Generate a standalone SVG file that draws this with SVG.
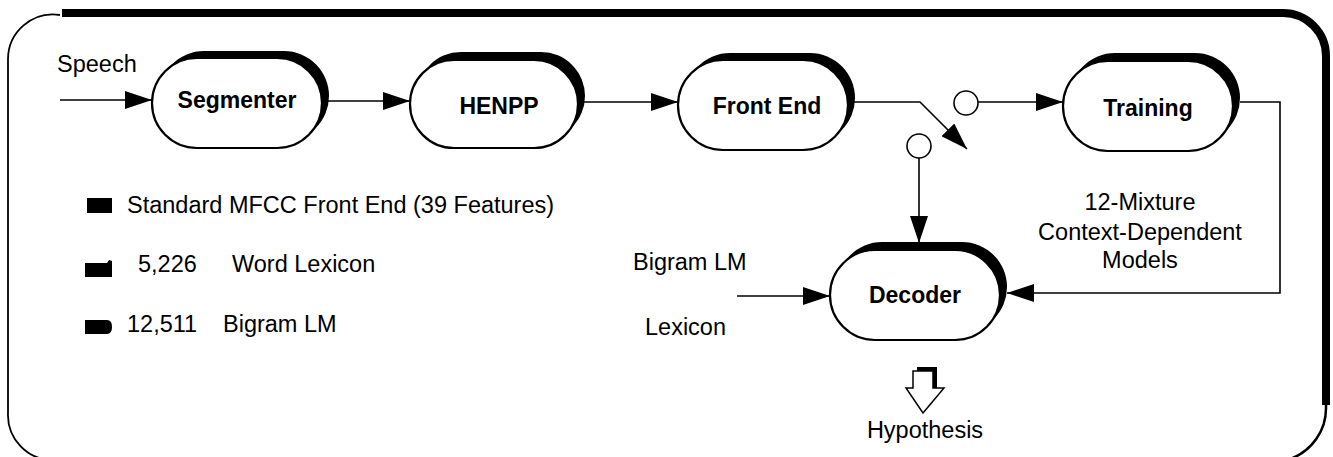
<svg xmlns="http://www.w3.org/2000/svg" width="1333" height="457" viewBox="0 0 1333 457">
<defs>
<style>
.t{font-family:"Liberation Sans",Arial,sans-serif;font-size:23.5px;fill:#000}
.b{font-family:"Liberation Sans",Arial,sans-serif;font-size:23px;font-weight:bold;fill:#000;text-anchor:middle}
.sh{fill:#000}
.body{fill:#fff;stroke:#000;stroke-width:2.2}
.arr{fill:none;stroke:#000;stroke-width:1.6;marker-end:url(#ah)}
.circ{fill:#fff;stroke:#000;stroke-width:1.6}
</style>
<marker id="ah" viewBox="0 0 27 18" refX="27" refY="9" markerWidth="27" markerHeight="18" markerUnits="userSpaceOnUse" orient="auto">
<path d="M0,0 L27,9 L0,18 Z" fill="#000"/>
</marker>
</defs>
<rect width="1333" height="457" fill="#fff"/>
<g id="frame">
<path d="M60,15 A45,45 0 0 0 8,60 L8,413 A45,45 0 0 0 53,460" fill="none" stroke="#000" stroke-width="1.8"/>
<path d="M62,13 L1283,13 A43,43 0 0 1 1326,56 L1326,405" fill="none" stroke="#000" stroke-width="8"/>
<path d="M1326,400 L1326,407 A54,54 0 0 1 1290,459" fill="none" stroke="#000" stroke-width="2.5"/>
</g>
<g id="connectors">
<line class="arr" x1="60" y1="100" x2="152" y2="100"/>
<line class="arr" x1="322" y1="101" x2="410" y2="101"/>
<line class="arr" x1="580" y1="102" x2="678" y2="102"/>
<polyline class="arr" points="850,102 920,102 967,149"/>
<line class="arr" x1="978" y1="102" x2="1063" y2="102"/>
<line class="arr" x1="919" y1="158" x2="919" y2="243"/>
<polyline class="arr" points="1240,102 1280,102 1280,293 1007,293"/>
<line class="arr" x1="737" y1="296" x2="830" y2="296"/>
<circle class="circ" cx="966" cy="103" r="12"/>
<circle class="circ" cx="919" cy="146" r="12"/>
</g>
<g id="segmenter">
<rect class="sh" x="159" y="51" width="170" height="90" rx="45"/>
<rect class="body" x="152" y="58" width="170" height="90" rx="45"/>
<text class="b" x="237" y="108">Segmenter</text>
</g>
<g id="henpp">
<rect class="sh" x="417" y="52" width="168" height="88" rx="44"/>
<rect class="body" x="410" y="60" width="168" height="88" rx="44"/>
<text class="b" x="499" y="114">HENPP</text>
</g>
<g id="frontend">
<rect class="sh" x="685" y="53" width="170" height="90" rx="45"/>
<rect class="body" x="678" y="60" width="170" height="90" rx="45"/>
<text class="b" x="767" y="114">Front End</text>
</g>
<g id="training">
<rect class="sh" x="1070" y="53" width="170" height="90" rx="45"/>
<rect class="body" x="1063" y="61" width="170" height="90" rx="45"/>
<text class="b" x="1148" y="116">Training</text>
</g>
<g id="decoder">
<rect class="sh" x="837" y="242" width="170" height="90" rx="45"/>
<rect class="body" x="830" y="250" width="170" height="90" rx="45"/>
<text class="b" x="915" y="303">Decoder</text>
</g>
<g id="hypothesis">
<path d="M917,367 L937,367 L937,388 L931,388 L931,371 L917,371 Z" fill="#000"/>
<path d="M913,371 L933,371 L933,388 L944,388 L923,413 L906,388 L913,388 Z" fill="#fff" stroke="#000" stroke-width="1.5"/>
<text class="t" x="925" y="438" text-anchor="middle">Hypothesis</text>
</g>
<g id="labels">
<text class="t" x="57" y="72">Speech</text>
<text class="t" x="633" y="270">Bigram LM</text>
<text class="t" x="645" y="335">Lexicon</text>
<text class="t" x="1140" y="210" text-anchor="middle">12-Mixture</text>
<text class="t" x="1140" y="240" text-anchor="middle">Context-Dependent</text>
<text class="t" x="1140" y="268" text-anchor="middle">Models</text>
</g>
<g id="legend">
<rect x="87" y="198" width="25" height="15" fill="#000"/>
<text class="t" x="127" y="213">Standard MFCC Front End (39 Features)</text>
<path d="M85,263 L107,263 L109,260 L112,261 L112,277 L85,277 Z" fill="#000"/>
<text class="t" x="138" y="272">5,226</text>
<text class="t" x="232" y="272">Word Lexicon</text>
<path d="M85,320 L107,320 Q112,320 112,327 Q112,334 107,334 L85,334 Z" fill="#000"/>
<text class="t" x="127" y="332">12,511</text>
<text class="t" x="223" y="332">Bigram LM</text>
</g>
</svg>
